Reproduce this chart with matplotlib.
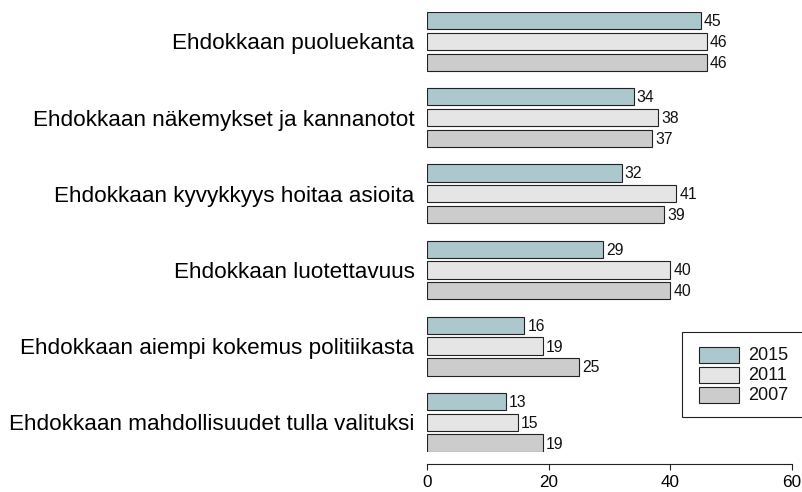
import matplotlib
matplotlib.use("Agg")
from matplotlib import pyplot as plt
from matplotlib.patches import Rectangle
import numpy as np

plt.rcParams['font.family'] = ['Liberation Sans', 'DejaVu Sans']

# Data (top to bottom)
categories = [
    "Ehdokkaan puoluekanta",
    "Ehdokkaan näkemykset ja kannanotot",
    "Ehdokkaan kyvykkyys hoitaa asioita",
    "Ehdokkaan luotettavuus",
    "Ehdokkaan aiempi kokemus politiikasta",
    "Ehdokkaan mahdollisuudet tulla valituksi",
]
years = ["2015", "2011", "2007"]
values_2015 = [45, 34, 32, 29, 16, 13]
values_2011 = [46, 38, 41, 40, 19, 15]
values_2007 = [46, 37, 39, 40, 25, 19]
series = [values_2015, values_2011, values_2007]
colors = ["#adc8cd", "#e5e5e5", "#cccccc"]
x_ticks = [0, 20, 40, 60]

W, H = 802, 492


def fx(px):
    return px / W


def fy(py):
    return 1 - py / H


fig = plt.figure(figsize=(W / 100, H / 100), dpi=100)
# axes in pixel box: left 427, right 792, top 12, bottom 451.7
ax = fig.add_axes([fx(427), fy(451.7), fx(792) - fx(427), fy(12) - fy(451.7)])

# R-style beside barplot: bar width 1, space 0.2 within group, 1 between groups
bar_h = 1.0
inner = 0.2
outer = 1.0
group_step = len(years) * bar_h + (len(years) - 1) * inner + outer
n = len(categories)

for j, (vals, col) in enumerate(zip(series, colors)):
    pos = np.arange(n) * group_step + j * (bar_h + inner) + bar_h / 2
    ax.barh(pos, vals, height=bar_h, color=col, edgecolor="#222222", linewidth=0.8)
    for p, v in zip(pos, vals):
        ax.annotate(str(v), (v, p), xytext=(3, -1), textcoords="offset pixels",
                    ha="left", va="center", fontsize=11.3, color="#111111")

total = n * group_step - outer
ax.set_ylim(total, 0)
ax.set_xlim(0, 60)

centers = np.arange(n) * group_step + (bar_h + inner) + bar_h / 2
ax.set_yticks(centers)
ax.set_yticklabels(categories)
ax.tick_params(axis="y", length=0, pad=9, labelsize=16.2)

ax.set_xticks(x_ticks)
ax.set_xticklabels([str(t) for t in x_ticks])
ax.tick_params(axis="x", length=4, width=0.8, pad=4, color="#222222", labelsize=12.3)

for s in ["top", "right", "left"]:
    ax.spines[s].set_visible(False)
ax.spines["bottom"].set_position(("outward", 9))
ax.spines["bottom"].set_linewidth(0.8)
ax.spines["bottom"].set_color("#222222")
ax.patch.set_visible(False)

# legend box (runs past the right edge like in the original)
fig.patches.append(Rectangle((fx(682), fy(416.7)), fx(830) - fx(682), fy(332.3) - fy(416.7),
                             transform=fig.transFigure, facecolor="white",
                             edgecolor="#222222", linewidth=0.8))
for j, (yr, col) in enumerate(zip(years, colors)):
    top = 347.3 + j * 20
    fig.patches.append(Rectangle((fx(699.3), fy(top + 16)), fx(40), 16 / H,
                                 transform=fig.transFigure, facecolor=col,
                                 edgecolor="#222222", linewidth=0.8))
    fig.text(fx(748), fy(top + 8.5), yr, ha="left", va="center", fontsize=13,
             color="#111111")

fig.savefig("out.png", dpi=100)
